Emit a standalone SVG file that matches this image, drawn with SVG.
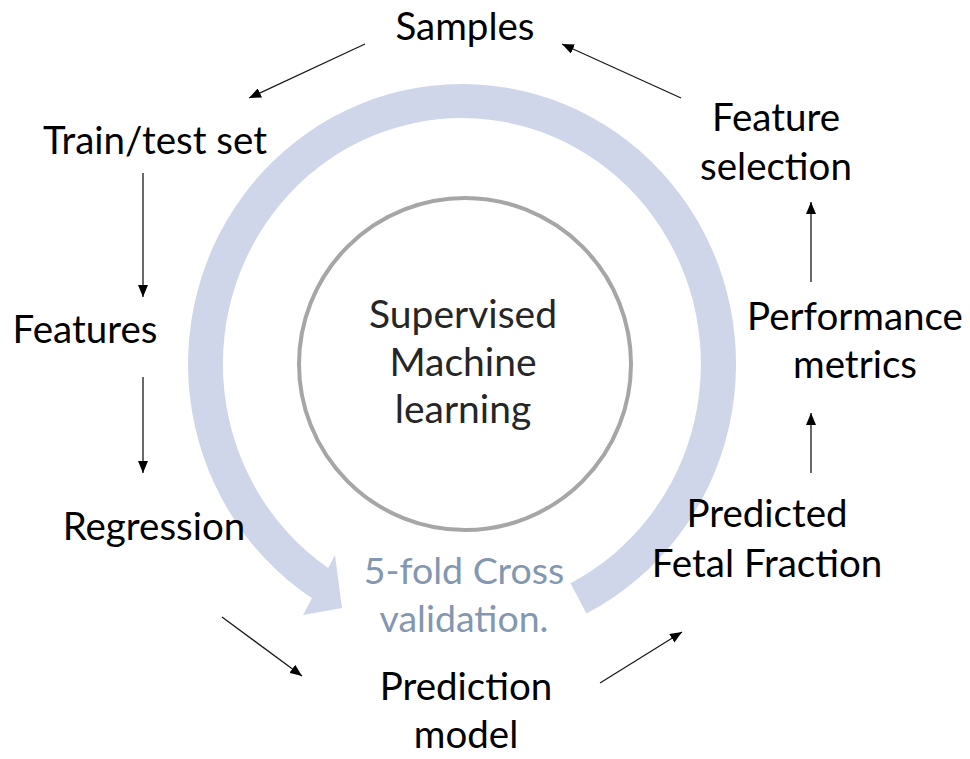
<svg xmlns="http://www.w3.org/2000/svg" width="970" height="759" viewBox="0 0 970 759">
  <style>
    .lbl { font-family: Lato, "Open Sans", "Liberation Sans", sans-serif; font-size: 38.5px; fill: #000; text-anchor: middle; }
    .core { fill: #262626; font-size: 39px; }
    .cv { fill: #8497B0; font-size: 37.5px; }
    .conn line { stroke: #1a1a1a; stroke-width: 1.3; marker-end: url(#head); }
  </style>
  <defs>
    <marker id="head" viewBox="0 0 12 10" markerWidth="12" markerHeight="10" refX="12" refY="5" orient="auto" markerUnits="userSpaceOnUse">
      <path d="M0,0 L12,5 L0,10 Z" fill="#000"/>
    </marker>
  </defs>

  <!-- circular cycle band with its arrowhead -->
  <path id="cycle" d="M 586.4,613.5 A 274 280 0 1 0 312,598.3 L 303,615 L 342,608 L 335,555 L 328.1,567.9 A 239 246 0 1 1 570.5,583.2 Z" fill="#CFD6EA"/>

  <g id="core">
    <circle cx="465" cy="364" r="166" fill="none" stroke="#A6A6A6" stroke-width="4"/>
    <text class="lbl core" x="463" y="328">Supervised</text>
    <text class="lbl core" x="463" y="376">Machine</text>
    <text class="lbl core" x="463" y="423">learning</text>
  </g>

  <g id="crossval">
    <text class="lbl cv" x="464" y="584">5-fold Cross</text>
    <text class="lbl cv" x="464" y="632">validation.</text>
  </g>

  <g id="samples"><text class="lbl" x="465" y="40">Samples</text></g>
  <g id="traintest"><text class="lbl" x="155" y="154">Train/test set</text></g>
  <g id="features"><text class="lbl" x="85" y="343">Features</text></g>
  <g id="regression"><text class="lbl" x="154" y="540">Regression</text></g>
  <g id="prediction">
    <text class="lbl" x="466" y="700">Prediction</text>
    <text class="lbl" x="466" y="748">model</text>
  </g>
  <g id="predicted">
    <text class="lbl" x="767" y="527">Predicted</text>
    <text class="lbl" x="767" y="577">Fetal Fraction</text>
  </g>
  <g id="metrics">
    <text class="lbl" x="855" y="330">Performance</text>
    <text class="lbl" x="855" y="378">metrics</text>
  </g>
  <g id="selection">
    <text class="lbl" x="776" y="131">Feature</text>
    <text class="lbl" x="776" y="180">selection</text>
  </g>

  <g id="connectors" class="conn">
    <line x1="365" y1="44" x2="249" y2="98"/>
    <line x1="143" y1="173" x2="143" y2="297"/>
    <line x1="143" y1="377" x2="143" y2="473"/>
    <line x1="222" y1="617" x2="302" y2="676"/>
    <line x1="600" y1="683" x2="682" y2="632"/>
    <line x1="811" y1="473" x2="811" y2="413"/>
    <line x1="811" y1="282" x2="811" y2="202"/>
    <line x1="681" y1="98" x2="562" y2="44"/>
  </g>
</svg>
